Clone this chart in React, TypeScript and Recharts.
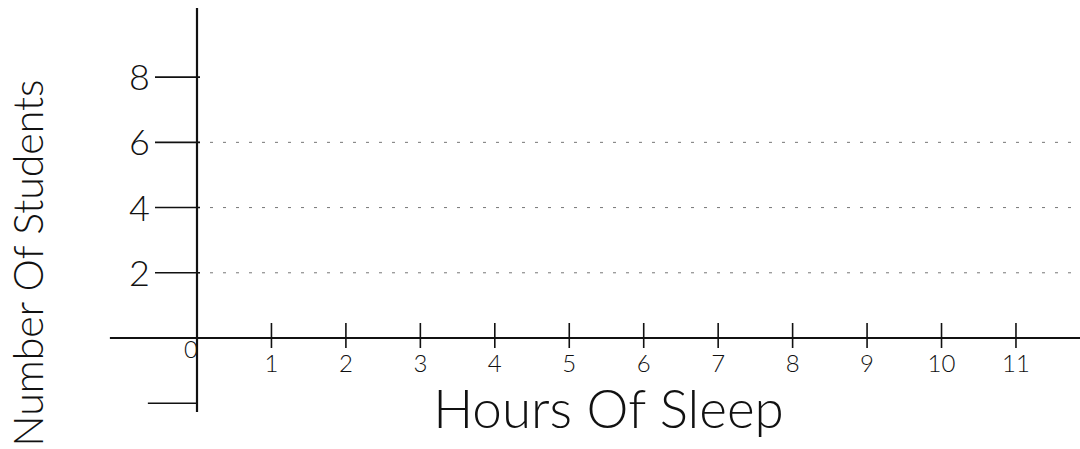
import React from 'react';
import { ComposedChart, Line, XAxis, YAxis, ReferenceLine, Label } from 'recharts';

// x categories (hours of sleep) and the (empty) student counts
const hoursOfSleep = [0, 1, 2, 3, 4, 5, 6, 7, 8, 9, 10, 11];
const studentCounts: (number | null)[] = [null, null, null, null, null, null, null, null, null, null, null, null];
const xTickLabels = ['0', '1', '2', '3', '4', '5', '6', '7', '8', '9', '10', '11'];
const yTickValues = [2, 4, 6, 8];
const yTickLabels = ['2', '4', '6', '8'];
const guideValues = [2, 4, 6];
const xDomain: [number, number] = [0, 11.86];
const yDomain: [number, number] = [0, 10.12];
const xAxisLeftEnd = -1.17;
const yAxisLowEnd = -2.27;
const yUnlabeledTick = -2;
const yUnlabeledTickStart = -0.66;
const xAxisTitle = 'Hours Of Sleep';
const yAxisTitle = 'Number Of Students';

const data = hoursOfSleep.map((h, i) => ({ hours: h, students: studentCounts[i] }));

const INK = '#111';
const FONT = "Lato, 'Open Sans', 'DejaVu Sans', sans-serif";

const XTick = (props: any) => {
  const { x, y, payload } = props;
  const v = payload.value;
  const label = xTickLabels[hoursOfSleep.indexOf(v)];
  if (v === 0) {
    return (
      <text x={x - 6} y={y + 20} textAnchor="middle" fontSize={24} fontFamily={FONT} fontWeight={300} fill={INK}>
        {label}
      </text>
    );
  }
  return (
    <g>
      <line x1={x} x2={x} y1={y - 15} y2={y + 10} stroke={INK} strokeWidth={1.6} />
      <text x={x} y={y + 34} textAnchor="middle" fontSize={24} fontFamily={FONT} fontWeight={300} fill={INK}>
        {label}
      </text>
    </g>
  );
};

const YTick = (props: any) => {
  const { x, y, payload } = props;
  const label = yTickLabels[yTickValues.indexOf(payload.value)];
  return (
    <g>
      <line x1={x - 42} x2={x + 3} y1={y} y2={y} stroke={INK} strokeWidth={1.6} />
      <text x={x - 47} y={y} dy="0.36em" textAnchor="end" fontSize={36} fontFamily={FONT} fontWeight={300} fill={INK}>
        {label}
      </text>
    </g>
  );
};

const XTitle = (props: any) => {
  const vb = props.viewBox || { x: 197, y: 338, width: 883, height: 30 };
  return (
    <text x={vb.x + vb.width / 2 - 30} y={vb.y + 90} textAnchor="middle" fontSize={53} fontFamily={FONT} fontWeight={300} fill={INK}>
      {xAxisTitle}
    </text>
  );
};

const YTitle = (props: any) => {
  const vb = props.viewBox || { x: 137, y: 8, width: 60, height: 330 };
  const tx = vb.x - 94;
  const ty = vb.y + vb.height / 2 + 90;
  return (
    <text x={tx} y={ty} transform={`rotate(-90, ${tx}, ${ty})`} textAnchor="middle" fontSize={41} fontFamily={FONT} fontWeight={300} fill={INK}>
      {yAxisTitle}
    </text>
  );
};

export default function App() {
  return (
    <div style={{ position: 'absolute', left: 0, top: 0, width: 1080, height: 449, background: '#fff' }}>
      <ComposedChart width={1080} height={449} data={data} margin={{ top: 8, right: 0, bottom: 81, left: 137 }}>
        {guideValues.map((v) => (
          <ReferenceLine key={v} y={v} stroke="#777" strokeWidth={1} strokeDasharray="3 10" ifOverflow="visible" />
        ))}
        <XAxis
          type="number"
          dataKey="hours"
          domain={xDomain}
          ticks={hoursOfSleep}
          interval={0}
          allowDataOverflow
          height={30}
          tickSize={0}
          tickMargin={0}
          tickLine={false}
          axisLine={{ stroke: INK, strokeWidth: 2.2 }}
          tick={<XTick />}
        >
          <Label content={<XTitle />} />
        </XAxis>
        <YAxis
          type="number"
          domain={yDomain}
          ticks={yTickValues}
          interval={0}
          allowDataOverflow
          width={60}
          tickSize={0}
          tickMargin={0}
          tickLine={false}
          axisLine={{ stroke: INK, strokeWidth: 2.2 }}
          tick={<YTick />}
        >
          <Label content={<YTitle />} />
        </YAxis>
        <ReferenceLine segment={[{ x: xAxisLeftEnd, y: 0 }, { x: 0, y: 0 }]} stroke={INK} strokeWidth={2.2} ifOverflow="visible" />
        <ReferenceLine segment={[{ x: 0, y: 0 }, { x: 0, y: yAxisLowEnd }]} stroke={INK} strokeWidth={2.2} ifOverflow="visible" />
        <ReferenceLine segment={[{ x: yUnlabeledTickStart, y: yUnlabeledTick }, { x: 0, y: yUnlabeledTick }]} stroke={INK} strokeWidth={1.6} ifOverflow="visible" />
        <Line type="linear" dataKey="students" stroke={INK} dot={false} isAnimationActive={false} connectNulls={false} />
      </ComposedChart>
    </div>
  );
}
